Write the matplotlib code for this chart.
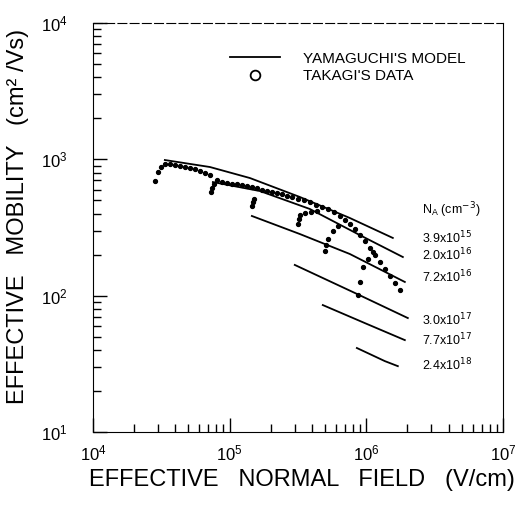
import numpy as np
import matplotlib
matplotlib.use("Agg")
import matplotlib.pyplot as plt
from matplotlib.lines import Line2D

plt.rcParams['font.family'] = ['Liberation Sans', 'DejaVu Sans']

# Yamaguchi's model, one curve per doping (field in V/cm, mobility in cm2/Vs)
doping_labels = ["3.9x10$^{15}$", "2.0x10$^{16}$", "7.2x10$^{16}$",
                 "3.0x10$^{17}$", "7.7x10$^{17}$", "2.4x10$^{18}$"]
m1_x = [3.36e4, 7.18e4, 1.408e5, 3.27e5, 7.59e5, 1.565e6]
m1_y = [988, 878, 729, 529, 371, 265]
m2_x = [7.55e4, 1.67e5, 3.87e5, 8.98e5, 1.853e6]
m2_y = [681, 585, 432, 278, 192]
m3_x = [1.456e5, 3.27e5, 7.59e5, 1.916e6]
m3_y = [384, 283, 202, 126]
m4_x = [3.00e5, 8.54e5, 2.015e6]
m4_y = [168, 103, 68.5]
m5_x = [4.81e5, 9.77e5, 1.916e6]
m5_y = [85.3, 62.9, 47.2]
m6_x = [8.54e5, 1.368e6, 1.703e6]
m6_y = [41.3, 33.1, 30.4]

# Takagi's data: universal curve
univ_x = [2.84e4, 2.99e4, 3.14e4, 3.36e4, 3.66e4, 3.98e4, 4.33e4, 4.71e4, 5.12e4, 5.58e4,
          6.06e4, 6.60e4, 7.18e4, 8.07e4, 8.78e4, 9.56e4, 1.04e5, 1.13e5, 1.23e5, 1.34e5,
          1.46e5, 1.58e5, 1.72e5, 1.87e5, 2.04e5, 2.22e5, 2.41e5, 2.63e5, 2.86e5, 3.16e5,
          3.50e5, 3.87e5, 4.28e5, 4.73e5, 5.24e5, 5.79e5, 6.41e5, 6.97e5, 7.59e5, 8.25e5,
          8.98e5, 9.77e5, 1.06e6, 1.16e6, 1.26e6, 1.37e6, 1.49e6, 1.62e6, 1.76e6]
univ_y = [693, 807, 878, 924, 924, 908, 893, 878, 863, 849,
          821, 793, 767, 705, 681, 670, 659, 659, 648, 637,
          626, 616, 596, 585, 576, 566, 556, 538, 529, 511,
          503, 486, 462, 447, 432, 411, 384, 359, 335, 308,
          278, 252, 224, 199, 176, 157, 139, 124, 110]
# low-field ends of the heavier doped samples
d2_x = [7.30e4, 7.42e4, 7.68e4]
d2_y = [576, 616, 659]
d3_x = [1.46e5, 1.48e5, 1.51e5]
d3_y = [454, 486, 511]
d4_x = [3.16e5, 3.21e5, 3.27e5, 3.55e5, 3.93e5, 4.35e5]
d4_y = [335, 365, 390, 404, 411, 418]
d5_x = [4.98e5, 5.06e5, 5.24e5, 5.70e5, 6.20e5]
d5_y = [212, 235, 260, 298, 324]
d6_x = [8.68e5, 8.98e5, 9.44e5, 1.03e6, 1.12e6]
d6_y = [101, 126, 162, 186, 209]

fig = plt.figure(figsize=(5.22, 5.05), dpi=100)
ax = fig.add_axes([0.178, 0.1446, 0.7854, 0.8099])

for mx, my in [(m1_x, m1_y), (m2_x, m2_y), (m3_x, m3_y),
               (m4_x, m4_y), (m5_x, m5_y), (m6_x, m6_y)]:
    ax.plot(mx, my, color='black', lw=1.3)

for dx, dy in [(univ_x, univ_y), (d2_x, d2_y), (d3_x, d3_y),
               (d4_x, d4_y), (d5_x, d5_y), (d6_x, d6_y)]:
    ax.plot(dx, dy, ls='none', marker='o', ms=2.8, color='black')

ax.set_xscale('log')
ax.set_yscale('log')
ax.set_xlim(1e4, 1e7)
ax.set_ylim(1e1, 1e4)
ax.set_xticks([1e4, 1e5, 1e6, 1e7])
ax.set_yticks([1e1, 1e2, 1e3, 1e4])
ax.tick_params(which='both', direction='in', top=False, right=False, labelsize=12)
ax.tick_params(which='major', length=10, width=1)
ax.tick_params(which='minor', length=6, width=1)
ax.tick_params(axis='x', pad=8)
ax.tick_params(axis='y', pad=18)
ax.spines['top'].set_linestyle((0, (8, 3)))

ax.set_xlabel("EFFECTIVE   NORMAL   FIELD   (V/cm)", fontsize=17, va='center')
ax.xaxis.set_label_coords(0.51, -0.117)
ax.set_ylabel("EFFECTIVE   MOBILITY   (cm² /Vs)", fontsize=17, va='center', ha='center')
ax.yaxis.set_label_coords(-0.183, 0.526)

handles = [Line2D([], [], color='black', lw=1.3),
           Line2D([], [], ls='none', marker='o', ms=7, mfc='white', mec='black', mew=1.3)]
ax.legend(handles, ["YAMAGUCHI'S MODEL", "TAKAGI'S DATA"], loc='upper left',
          bbox_to_anchor=(0.334, 0.93), frameon=False, fontsize=11,
          handlelength=3.3, handletextpad=1.5, labelspacing=0.25,
          borderpad=0, borderaxespad=0)

ax.text(0.802, 0.543, "N$_\\mathregular{A}$ (cm$^{-3}$)", transform=ax.transAxes,
        fontsize=9, va='center')
label_y = [0.474, 0.433, 0.379, 0.274, 0.225, 0.164]
for lab, ly in zip(doping_labels, label_y):
    ax.text(0.802, ly, lab, transform=ax.transAxes, fontsize=9, va='center')

fig.savefig("out.png", dpi=100)
